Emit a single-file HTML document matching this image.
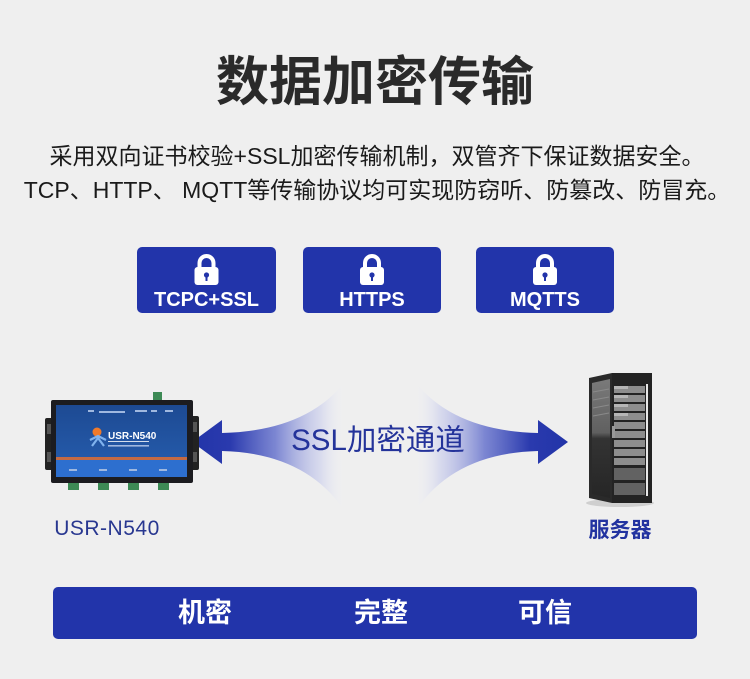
<!DOCTYPE html>
<html>
<head>
<meta charset="utf-8">
<style>
  html,body{margin:0;padding:0;}
  body{width:750px;height:679px;background:#efefef;position:relative;overflow:hidden;
    font-family:"Liberation Sans","Noto Sans CJK SC",sans-serif;}
  .t{position:absolute;white-space:nowrap;text-align:center;}
  svg{position:absolute;left:0;top:0;}
</style>
</head>
<body>
<svg width="750" height="679" viewBox="0 0 750 679" xmlns="http://www.w3.org/2000/svg">
  <defs>
    <linearGradient id="gl" gradientUnits="userSpaceOnUse" x1="192" y1="0" x2="344" y2="0">
      <stop offset="0" stop-color="#2234a8" stop-opacity="1"/>
      <stop offset="0.25" stop-color="#2a3aae" stop-opacity="1"/>
      <stop offset="0.55" stop-color="#6874cd" stop-opacity="0.85"/>
      <stop offset="0.85" stop-color="#bfc4ec" stop-opacity="0.45"/>
      <stop offset="1" stop-color="#eef0fa" stop-opacity="0"/>
    </linearGradient>
    <linearGradient id="gr" gradientUnits="userSpaceOnUse" x1="568" y1="0" x2="416" y2="0">
      <stop offset="0" stop-color="#2234a8" stop-opacity="1"/>
      <stop offset="0.25" stop-color="#2a3aae" stop-opacity="1"/>
      <stop offset="0.55" stop-color="#6874cd" stop-opacity="0.85"/>
      <stop offset="0.85" stop-color="#bfc4ec" stop-opacity="0.45"/>
      <stop offset="1" stop-color="#eef0fa" stop-opacity="0"/>
    </linearGradient>
    <linearGradient id="face" x1="0" y1="0" x2="0" y2="1">
      <stop offset="0" stop-color="#1d4a93"/>
      <stop offset="1" stop-color="#2459a8"/>
    </linearGradient>
    <linearGradient id="side" x1="0" y1="0" x2="0" y2="1">
      <stop offset="0" stop-color="#7a7a7a"/>
      <stop offset="0.45" stop-color="#606060"/>
      <stop offset="0.5" stop-color="#333"/>
      <stop offset="1" stop-color="#262626"/>
    </linearGradient>
  </defs>

  <!-- Protocol boxes -->
  <rect x="137" y="247" width="139" height="66" rx="5" fill="#2234aa"/>
  <rect x="303" y="247" width="138" height="66" rx="5" fill="#2234aa"/>
  <rect x="476" y="247" width="138" height="66" rx="5" fill="#2234aa"/>

  <!-- locks -->
  <g fill="#fff">
    <path d="M199.5,268 V263 A7,7 0 0 1 213.5,263 V268" fill="none" stroke="#fff" stroke-width="4"/>
    <rect x="194.5" y="267" width="24" height="18" rx="3"/>
    <path d="M365,268 V263 A7,7 0 0 1 379,263 V268" fill="none" stroke="#fff" stroke-width="4"/>
    <rect x="360" y="267" width="24" height="18" rx="3"/>
    <path d="M538,268 V263 A7,7 0 0 1 552,263 V268" fill="none" stroke="#fff" stroke-width="4"/>
    <rect x="533" y="267" width="24" height="18" rx="3"/>
  </g>
  <g fill="#2234aa">
    <circle cx="206.5" cy="275" r="2.6"/><rect x="205.5" y="276" width="2" height="5"/>
    <circle cx="372" cy="275" r="2.6"/><rect x="371" y="276" width="2" height="5"/>
    <circle cx="545" cy="275" r="2.6"/><rect x="544" y="276" width="2" height="5"/>
  </g>

  <!-- Arrows -->
  <path d="M192,442 L222,420 L222,433 Q305,431 344,383 L344,510 Q305,453 222,451 L222,464 Z" fill="url(#gl)"/>
  <path d="M568,442 L538,420 L538,433 Q455,431 416,383 L416,510 Q455,453 538,451 L538,464 Z" fill="url(#gr)"/>

  <!-- Device -->
  <rect x="153" y="392" width="9" height="8" fill="#3d8a55"/>
  <rect x="45" y="418" width="12" height="52" rx="2" fill="#222"/>
  <rect x="47" y="424" width="5" height="10" fill="#555"/>
  <rect x="47" y="452" width="5" height="10" fill="#555"/>
  <rect x="187" y="416" width="12" height="54" rx="2" fill="#222"/>
  <rect x="193" y="422" width="4" height="10" fill="#555"/>
  <rect x="193" y="452" width="4" height="10" fill="#555"/>
  <rect x="51" y="400" width="142" height="83" rx="2" fill="#1c1c20"/>
  <rect x="56" y="405" width="131" height="53" fill="url(#face)"/>
  <rect x="56" y="457" width="131" height="3" fill="#c46a43"/>
  <rect x="56" y="460" width="131" height="17" fill="#2d6fcf"/>
  <circle cx="97" cy="432" r="4.5" fill="#f07a2a"/>
  <path d="M90,440 L98,436 L106,440 M92,446 L98,438 L104,446" stroke="#7fb2ee" stroke-width="2.2" fill="none"/>
  <text x="108" y="439" font-family="Liberation Sans" font-weight="bold" font-size="10" fill="#fff">USR-N540</text>
  <rect x="108" y="441" width="41" height="0.8" fill="#fff"/>
  <rect x="108" y="445" width="41" height="1.6" fill="#9fb8e0"/>
  <g fill="#9fb8e0">
    <rect x="88" y="410" width="6" height="2"/>
    <rect x="99" y="411" width="26" height="2"/>
    <rect x="135" y="410" width="12" height="2"/>
    <rect x="151" y="410" width="6" height="2"/>
    <rect x="165" y="410" width="8" height="2"/>
    <rect x="69" y="469" width="8" height="2"/>
    <rect x="99" y="469" width="8" height="2"/>
    <rect x="129" y="469" width="8" height="2"/>
    <rect x="159" y="469" width="8" height="2"/>
  </g>
  <g fill="#3d8a55">
    <rect x="68" y="483" width="11" height="7"/>
    <rect x="98" y="483" width="11" height="7"/>
    <rect x="128" y="483" width="11" height="7"/>
    <rect x="158" y="483" width="11" height="7"/>
  </g>

  <!-- Server -->
  <ellipse cx="620" cy="503" rx="34" ry="4" fill="#cfcfcf"/>
  <polygon points="589,378 612,373 612,503 589,498" fill="#2a2a2a"/>
  <polygon points="592,383 610,379 610,498 592,494" fill="url(#side)"/>
  <g stroke="#8a8a8a" stroke-width="1">
    <line x1="593" y1="392" x2="609" y2="389"/>
    <line x1="593" y1="400" x2="609" y2="397"/>
    <line x1="593" y1="408" x2="609" y2="405"/>
    <line x1="593" y1="416" x2="609" y2="413"/>
  </g>
  <rect x="612" y="373" width="40" height="130" fill="#232323"/>
  <g fill="#8d8d8d">
    <rect x="614" y="386" width="31" height="7"/>
    <rect x="614" y="395" width="31" height="7"/>
    <rect x="614" y="404" width="31" height="7"/>
    <rect x="614" y="413" width="31" height="7"/>
    <rect x="614" y="422" width="31" height="7"/>
    <rect x="614" y="431" width="31" height="7"/>
    <rect x="614" y="440" width="31" height="7"/>
    <rect x="614" y="449" width="31" height="7"/>
    <rect x="614" y="458" width="31" height="7"/>
  </g>
  <g fill="#626262">
    <rect x="614" y="468" width="31" height="12"/>
    <rect x="614" y="483" width="31" height="12"/>
  </g>
  <g fill="#b5b5b5">
    <rect x="614" y="386" width="14" height="3"/>
    <rect x="614" y="395" width="14" height="3"/>
    <rect x="614" y="404" width="14" height="3"/>
    <rect x="614" y="413" width="14" height="3"/>
  </g>
  <rect x="646" y="384" width="2" height="112" fill="#e8e8e8"/>
  <rect x="612" y="426" width="3" height="12" fill="#999"/>

  <!-- Bottom bar -->
  <rect x="53" y="587" width="644" height="52" rx="5" fill="#2234aa"/>
</svg>

<div class="t" style="left:0;width:750px;top:52px;font-size:53px;line-height:53px;font-weight:bold;color:#2a2a2a;font-family:'Noto Sans CJK SC',sans-serif;">数据加密传输</div>

<div class="t" style="left:2px;width:750px;top:144px;font-size:23px;line-height:24px;color:#1a1a1a;">采用双向证书校验+SSL加密传输机制，双管齐下保证数据安全。</div>
<div class="t" style="left:0;width:754px;top:178px;font-size:23px;line-height:24px;color:#1a1a1a;">TCP、HTTP、 MQTT等传输协议均可实现防窃听、防篡改、防冒充。</div>

<div class="t" style="left:137px;width:139px;top:289px;font-size:20px;line-height:22px;font-weight:bold;color:#fff;">TCPC+SSL</div>
<div class="t" style="left:303px;width:138px;top:289px;font-size:20px;line-height:22px;font-weight:bold;color:#fff;">HTTPS</div>
<div class="t" style="left:476px;width:138px;top:289px;font-size:20px;line-height:22px;font-weight:bold;color:#fff;">MQTTS</div>

<div class="t" style="left:278px;width:200px;top:425px;font-size:29.5px;line-height:32px;color:#24339a;">SSL加密通道</div>

<div class="t" style="left:37px;width:140px;top:517px;font-size:21px;line-height:24px;color:#283790;letter-spacing:0.5px;">USR-N540</div>
<div class="t" style="left:560px;width:120px;top:519px;font-size:21px;line-height:24px;font-weight:bold;color:#2233a0;">服务器</div>

<div class="t" style="left:145px;width:120px;top:598px;font-size:27px;line-height:30px;font-weight:bold;color:#fff;">机密</div>
<div class="t" style="left:321px;width:120px;top:598px;font-size:27px;line-height:30px;font-weight:bold;color:#fff;">完整</div>
<div class="t" style="left:485px;width:120px;top:598px;font-size:27px;line-height:30px;font-weight:bold;color:#fff;">可信</div>
</body>
</html>
